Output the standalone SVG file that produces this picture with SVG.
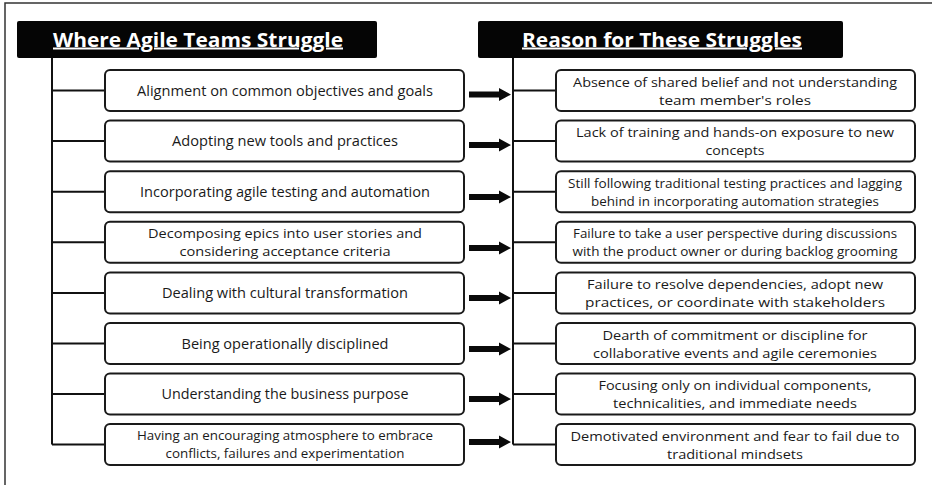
<svg xmlns="http://www.w3.org/2000/svg" xmlns:xlink="http://www.w3.org/1999/xlink" width="932" height="485" viewBox="0 0 932 485">
<style>
.frame{stroke:#333;stroke-width:1.5;fill:none}
.hdr{fill:#050505}
.htxt{fill:#fff;font-family:"Open Sans","Liberation Sans",sans-serif;font-weight:bold;font-size:20px;text-anchor:middle;text-decoration:underline}
.box{fill:#fff;stroke:#1a1a1a;stroke-width:2}
.t{fill:#1a1a1a;font-family:"Open Sans","Liberation Sans",sans-serif;text-anchor:middle}
.l{font-size:14.5px}
.m{font-size:13.5px}
.r{font-size:13.5px}
.s{font-size:12.5px}
.ln{stroke:#111;stroke-width:2;fill:none}
.arr{fill:#0a0a0a}
</style>
<defs>
<path id="arrow" d="M0,-3 H30 V-6.5 L42,0 L30,6.5 V3 H0 Z"/>
</defs>
<rect x="0" y="0" width="932" height="485" fill="#fff"/>
<path class="frame" d="M5,485 V3 H932"/>

<g id="connectors">
<path class="ln" d="M52,58 V444.5 M52,90.5 H105 M52,141.1 H105 M52,191.7 H105 M52,242.3 H105 M52,292.9 H105 M52,343.5 H105 M52,394.1 H105 M52,444.5 H105"/>
<path class="ln" d="M513,58 V444.5 M513,90.5 H556 M513,141.1 H556 M513,191.7 H556 M513,242.3 H556 M513,292.9 H556 M513,343.5 H556 M513,394.1 H556 M513,444.5 H556"/>
<use xlink:href="#arrow" class="arr" x="469" y="94.5"/>
<use xlink:href="#arrow" class="arr" x="469" y="145"/>
<use xlink:href="#arrow" class="arr" x="469" y="197"/>
<use xlink:href="#arrow" class="arr" x="469" y="248"/>
<use xlink:href="#arrow" class="arr" x="469" y="298"/>
<use xlink:href="#arrow" class="arr" x="469" y="349"/>
<use xlink:href="#arrow" class="arr" x="469" y="399"/>
<use xlink:href="#arrow" class="arr" x="469" y="442"/>
</g>

<g id="hdr-left">
<rect class="hdr" x="17" y="21" width="360" height="37" rx="2"/>
<text class="htxt" x="198" y="46.5" textLength="290" lengthAdjust="spacingAndGlyphs">Where Agile Teams Struggle</text>
</g>
<g id="hdr-right">
<rect class="hdr" x="478" y="21" width="365" height="37" rx="2"/>
<text class="htxt" x="662" y="46.5" textLength="280" lengthAdjust="spacingAndGlyphs">Reason for These Struggles</text>
</g>

<g id="l1"><rect class="box" x="105" y="70" width="359" height="41" rx="5"/>
<text class="t l" x="285" y="95.5" textLength="296" lengthAdjust="spacingAndGlyphs">Alignment on common objectives and goals</text></g>
<g id="l2"><rect class="box" x="105" y="120.6" width="359" height="41" rx="5"/>
<text class="t l" x="285" y="146.1" textLength="226" lengthAdjust="spacingAndGlyphs">Adopting new tools and practices</text></g>
<g id="l3"><rect class="box" x="105" y="171.2" width="359" height="41" rx="5"/>
<text class="t l" x="285" y="196.7" textLength="290" lengthAdjust="spacingAndGlyphs">Incorporating agile testing and automation</text></g>
<g id="l4"><rect class="box" x="105" y="221.8" width="359" height="41" rx="5"/>
<text class="t m" x="285" y="237.5" textLength="274" lengthAdjust="spacingAndGlyphs">Decomposing epics into user stories and</text>
<text class="t m" x="285" y="255.5" textLength="211" lengthAdjust="spacingAndGlyphs">considering acceptance criteria</text></g>
<g id="l5"><rect class="box" x="105" y="272.4" width="359" height="41" rx="5"/>
<text class="t l" x="285" y="297.9" textLength="246" lengthAdjust="spacingAndGlyphs">Dealing with cultural transformation</text></g>
<g id="l6"><rect class="box" x="105" y="323" width="359" height="41" rx="5"/>
<text class="t l" x="285" y="348.5" textLength="207" lengthAdjust="spacingAndGlyphs">Being operationally disciplined</text></g>
<g id="l7"><rect class="box" x="105" y="373.6" width="359" height="41" rx="5"/>
<text class="t l" x="285" y="399.1" textLength="247" lengthAdjust="spacingAndGlyphs">Understanding the business purpose</text></g>
<g id="l8"><rect class="box" x="105" y="424" width="359" height="41" rx="5"/>
<text class="t s" x="285" y="439.5" textLength="296" lengthAdjust="spacingAndGlyphs">Having an encouraging atmosphere to embrace</text>
<text class="t s" x="285" y="457.5" textLength="239" lengthAdjust="spacingAndGlyphs">conflicts, failures and experimentation</text></g>

<g id="r1"><rect class="box" x="556" y="70" width="359" height="41" rx="5"/>
<text class="t r" x="735" y="86.5" textLength="324" lengthAdjust="spacingAndGlyphs">Absence of shared belief and not understanding</text>
<text class="t r" x="735" y="104.5" textLength="152" lengthAdjust="spacingAndGlyphs">team member's roles</text></g>
<g id="r2"><rect class="box" x="556" y="120.6" width="359" height="41" rx="5"/>
<text class="t r" x="735" y="137.1" textLength="318" lengthAdjust="spacingAndGlyphs">Lack of training and hands-on exposure to new</text>
<text class="t r" x="735" y="155.1" textLength="59" lengthAdjust="spacingAndGlyphs">concepts</text></g>
<g id="r3"><rect class="box" x="556" y="171.2" width="359" height="41" rx="5"/>
<text class="t s" x="735" y="187.7" textLength="334" lengthAdjust="spacingAndGlyphs">Still following traditional testing practices and lagging</text>
<text class="t s" x="735" y="205.7" textLength="288" lengthAdjust="spacingAndGlyphs">behind in incorporating automation strategies</text></g>
<g id="r4"><rect class="box" x="556" y="221.8" width="359" height="41" rx="5"/>
<text class="t s" x="735" y="238.3" textLength="324" lengthAdjust="spacingAndGlyphs">Failure to take a user perspective during discussions</text>
<text class="t s" x="735" y="256.3" textLength="325" lengthAdjust="spacingAndGlyphs">with the product owner or during backlog grooming</text></g>
<g id="r5"><rect class="box" x="556" y="272.4" width="359" height="41" rx="5"/>
<text class="t r" x="735" y="288.9" textLength="296" lengthAdjust="spacingAndGlyphs">Failure to resolve dependencies, adopt new</text>
<text class="t r" x="735" y="306.9" textLength="300" lengthAdjust="spacingAndGlyphs">practices, or coordinate with stakeholders</text></g>
<g id="r6"><rect class="box" x="556" y="323" width="359" height="41" rx="5"/>
<text class="t r" x="735" y="339.5" textLength="265" lengthAdjust="spacingAndGlyphs">Dearth of commitment or discipline for</text>
<text class="t r" x="735" y="357.5" textLength="284" lengthAdjust="spacingAndGlyphs">collaborative events and agile ceremonies</text></g>
<g id="r7"><rect class="box" x="556" y="373.6" width="359" height="41" rx="5"/>
<text class="t r" x="735" y="390.1" textLength="273" lengthAdjust="spacingAndGlyphs">Focusing only on individual components,</text>
<text class="t r" x="735" y="408.1" textLength="244" lengthAdjust="spacingAndGlyphs">technicalities, and immediate needs</text></g>
<g id="r8"><rect class="box" x="556" y="424" width="359" height="41" rx="5"/>
<text class="t r" x="735" y="440.5" textLength="329" lengthAdjust="spacingAndGlyphs">Demotivated environment and fear to fail due to</text>
<text class="t r" x="735" y="458.5" textLength="136" lengthAdjust="spacingAndGlyphs">traditional mindsets</text></g>
</svg>
